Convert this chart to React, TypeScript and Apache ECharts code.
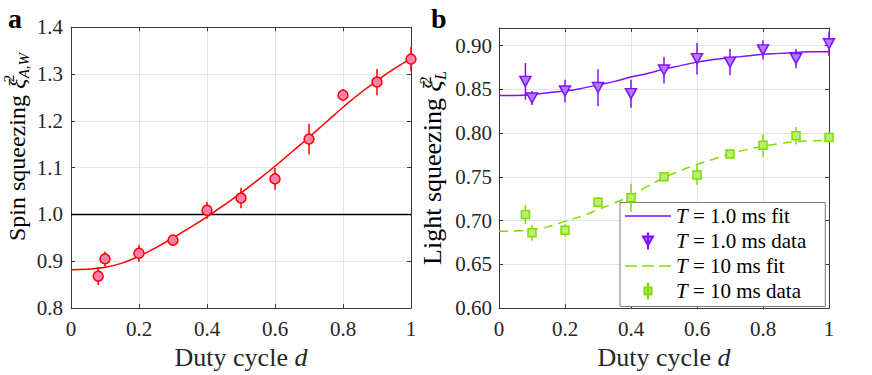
import React, { useEffect, useRef } from "react";
import * as echarts from "echarts";

// ---------- data ----------
const fitD = [0, 0.05, 0.1, 0.15, 0.2, 0.25, 0.3, 0.35, 0.4, 0.45, 0.5, 0.55, 0.6, 0.65, 0.7, 0.75, 0.8, 0.85, 0.9, 0.95, 1.0];
const aFit = [0.882, 0.883, 0.887, 0.896, 0.911, 0.929, 0.95, 0.972, 0.995, 1.02, 1.046, 1.074, 1.103, 1.134, 1.165, 1.197, 1.229, 1.259, 1.286, 1.311, 1.333];
const purpleFit = [0.843, 0.843, 0.844, 0.846, 0.848, 0.851, 0.855, 0.859, 0.864, 0.868, 0.873, 0.877, 0.881, 0.884, 0.886, 0.888, 0.89, 0.891, 0.892, 0.893, 0.893];
const greenFit = [0.6876, 0.688, 0.6895, 0.693, 0.699, 0.705, 0.7124, 0.72, 0.7284, 0.739, 0.749, 0.757, 0.764, 0.77, 0.776, 0.781, 0.7848, 0.788, 0.79, 0.791, 0.7917];

const aD = [0.08, 0.1, 0.2, 0.3, 0.4, 0.5, 0.6, 0.7, 0.8, 0.9, 1.0];
const aVal = [0.868, 0.905, 0.917, 0.945, 1.009, 1.035, 1.076, 1.161, 1.255, 1.283, 1.332];
const aErr = [0.019, 0.016, 0.018, 0.008, 0.018, 0.022, 0.023, 0.033, 0.013, 0.028, 0.026];

const bD = [0.08, 0.1, 0.2, 0.3, 0.4, 0.5, 0.6, 0.7, 0.8, 0.9, 1.0];
const purpleVal = [0.859, 0.84, 0.848, 0.852, 0.845, 0.872, 0.885, 0.881, 0.895, 0.885, 0.902];
const purpleErr = [0.021, 0.008, 0.013, 0.021, 0.016, 0.015, 0.018, 0.015, 0.011, 0.011, 0.014];
const greenVal = [0.707, 0.686, 0.689, 0.721, 0.726, 0.75, 0.752, 0.776, 0.786, 0.797, 0.795];
const greenErr = [0.011, 0.009, 0.007, 0.006, 0.016, 0.005, 0.011, 0.004, 0.013, 0.01, 0.006];

const legendNames = ["T = 1.0 ms fit", "T = 1.0 ms data", "T = 10 ms fit", "T = 10 ms data"];

// ---------- style ----------
const FONT = "'Liberation Serif', 'Times New Roman', serif";
const TXT = "#262626";
const AX = "#3a3a3a";
const GRID = "#e4e4e4";
const RED = "#ff0000";
const PINK = "#ff80ab";
const PURPLE = "#7f10ff";
const LPURPLE = "#b07cff";
const GREEN = "#7fdc00";
const LGREEN = "#b8ee78";

const pairs = (xs: number[], ys: number[]) => xs.map((x, i) => [x, ys[i]]);
const errData = (xs: number[], ys: number[], es: number[]) => xs.map((x, i) => [x, ys[i] - es[i], ys[i] + es[i]]);
const errRender = (color: string) => (params: any, api: any) => {
  const x = api.value(0);
  const p1 = api.coord([x, api.value(1)]);
  const p2 = api.coord([x, api.value(2)]);
  return {
    type: "line",
    shape: { x1: p1[0], y1: p1[1], x2: p2[0], y2: p2[1] },
    style: { stroke: color, lineWidth: 1.5 },
  };
};

const mainX = (grid: number, name: string) => ({
  gridIndex: grid,
  type: "value",
  min: 0,
  max: 1,
  interval: 0.2,
  position: "bottom",
  axisLine: { show: true, onZero: false, lineStyle: { color: AX, width: 1 } },
  axisTick: { show: true, inside: true, length: 4, lineStyle: { color: AX } },
  axisLabel: { fontFamily: FONT, fontSize: 21, color: TXT, margin: 10 },
  splitLine: { show: true, lineStyle: { color: GRID, width: 1 } },
  name,
  nameLocation: "middle",
  nameGap: 36,
  nameTextStyle: {
    fontFamily: FONT,
    fontSize: 26,
    color: TXT,
    rich: { i: { fontFamily: FONT, fontSize: 26, fontStyle: "italic", color: TXT } },
  },
});
const mirrorX = (grid: number) => ({
  gridIndex: grid,
  type: "value",
  min: 0,
  max: 1,
  interval: 0.2,
  position: "top",
  axisLine: { show: true, onZero: false, lineStyle: { color: AX, width: 1 } },
  axisTick: { show: true, inside: true, length: 4, lineStyle: { color: AX } },
  axisLabel: { show: false },
  splitLine: { show: false },
});
const mainY = (grid: number, min: number, max: number, interval: number, digits: number, margin: number) => ({
  gridIndex: grid,
  type: "value",
  min,
  max,
  interval,
  position: "left",
  axisLine: { show: true, onZero: false, lineStyle: { color: AX, width: 1 } },
  axisTick: { show: true, inside: true, length: 4, lineStyle: { color: AX } },
  axisLabel: {
    fontFamily: FONT,
    fontSize: 21,
    color: TXT,
    margin,
    showMaxLabel: digits === 1,
    formatter: (v: number) => v.toFixed(digits),
  },
  splitLine: { show: true, lineStyle: { color: GRID, width: 1 } },
});
const mirrorY = (grid: number, min: number, max: number, interval: number) => ({
  gridIndex: grid,
  type: "value",
  min,
  max,
  interval,
  position: "right",
  axisLine: { show: true, onZero: false, lineStyle: { color: AX, width: 1 } },
  axisTick: { show: true, inside: true, length: 4, lineStyle: { color: AX } },
  axisLabel: { show: false },
  splitLine: { show: false },
});

const supRich = (size: number, small: number, lh: number) => ({
  a: { fontFamily: FONT, fontSize: size, color: TXT, lineHeight: lh },
  x: { fontFamily: FONT, fontSize: size, fontStyle: "italic", color: TXT, lineHeight: lh },
  sup: { fontFamily: FONT, fontSize: small, color: TXT, verticalAlign: "top", width: 0.5, lineHeight: lh },
  sub: { fontFamily: FONT, fontSize: small, fontStyle: "italic", color: TXT, verticalAlign: "bottom", lineHeight: lh },
});

export default function App() {
  const ref = useRef<HTMLDivElement>(null);
  useEffect(() => {
    if (!ref.current) return;
    const chart = echarts.init(ref.current, undefined, { renderer: "svg" });
    const option: any = {
      animation: false,
      backgroundColor: "#ffffff",
      grid: [
        { left: 71, top: 27.3, width: 340, height: 281.4 },
        { left: 499, top: 28, width: 330, height: 280.3 },
      ],
      xAxis: [mainX(0, "Duty cycle {i|d}"), mirrorX(0), mainX(1, "Duty cycle {i|d}"), mirrorX(1)],
      yAxis: [
        mainY(0, 0.8, 1.4, 0.1, 1, 8),
        mirrorY(0, 0.8, 1.4, 0.1),
        mainY(1, 0.6, 0.92, 0.05, 2, 7),
        mirrorY(1, 0.6, 0.92, 0.05),
      ],
      legend: {
        show: true,
        selectedMode: false,
        orient: "vertical",
        left: 620,
        top: 202.5,
        backgroundColor: "#ffffff",
        borderColor: "#7a7a7a",
        borderWidth: 1,
        borderRadius: 0,
        padding: [1, 19, 3, 5],
        itemWidth: 46,
        itemHeight: 17,
        itemGap: 0,
        textStyle: {
          fontFamily: FONT,
          fontSize: 21,
          color: "#000",
          lineHeight: 25,
          rich: { i: { fontFamily: FONT, fontSize: 21, fontStyle: "italic", color: "#000", lineHeight: 25 } },
        },
        formatter: (name: string) => name.replace(/^T/, "{i|T}"),
        data: [
          { name: legendNames[0], icon: "path://M0,0 L46,0 L46,1.5 L0,1.5 Z" },
          { name: legendNames[1], icon: "path://M0,4 L10,4 L5,13 Z M5,0 L5,17" },
          { name: legendNames[2], icon: "path://M0,0 L12,0 L12,1.5 L0,1.5 Z M17,0 L29,0 L29,1.5 L17,1.5 Z M34,0 L46,0 L46,1.5 L34,1.5 Z" },
          { name: legendNames[3], icon: "path://M1,5 L8,5 L8,12 L1,12 Z M4.5,0 L4.5,17" },
        ],
      },
      graphic: [
        {
          type: "text",
          x: 16.5,
          y: 147,
          rotation: Math.PI / 2,
          style: {
            text: "{a|Spin squeezing }{x|ξ}{sup|2}{sub|A,W}",
            rich: supRich(24, 15, 30),
            align: "center",
            verticalAlign: "middle",
            textAlign: "center",
            textVerticalAlign: "middle",
          },
        },
        {
          type: "text",
          x: 432.5,
          y: 168,
          rotation: Math.PI / 2,
          style: {
            text: "{a|Light squeezing }{x|ξ}{sup|2}{sub|L}",
            rich: supRich(26, 16, 31),
            align: "center",
            verticalAlign: "middle",
            textAlign: "center",
            textVerticalAlign: "middle",
          },
        },
        {
          type: "text",
          x: 8,
          y: 18.5,
          style: { text: "a", fontFamily: FONT, fontSize: 28, fontWeight: "bold", fill: "#000", verticalAlign: "middle", textVerticalAlign: "middle" },
        },
        {
          type: "text",
          x: 431,
          y: 18.5,
          style: { text: "b", fontFamily: FONT, fontSize: 28, fontWeight: "bold", fill: "#000", verticalAlign: "middle", textVerticalAlign: "middle" },
        },
      ],
      series: [
        // panel a
        {
          type: "line",
          name: "unity",
          xAxisIndex: 0,
          yAxisIndex: 0,
          data: [[0, 1], [1, 1]],
          symbol: "none",
          lineStyle: { color: "#000", width: 1.5 },
          z: 2,
        },
        {
          type: "line",
          name: "a fit",
          xAxisIndex: 0,
          yAxisIndex: 0,
          data: pairs(fitD, aFit),
          smooth: true,
          symbol: "none",
          lineStyle: { color: RED, width: 1.5 },
          z: 3,
        },
        {
          type: "custom",
          name: "a err",
          xAxisIndex: 0,
          yAxisIndex: 0,
          data: errData(aD, aVal, aErr),
          encode: { x: 0, y: [1, 2] },
          renderItem: errRender(RED),
          z: 4,
        },
        {
          type: "scatter",
          name: "a data",
          xAxisIndex: 0,
          yAxisIndex: 0,
          data: pairs(aD, aVal),
          symbol: "circle",
          symbolSize: 10,
          itemStyle: { color: PINK, borderColor: RED, borderWidth: 1.5, opacity: 1 },
          z: 5,
        },
        // panel b
        {
          type: "line",
          name: legendNames[0],
          xAxisIndex: 2,
          yAxisIndex: 2,
          data: pairs(fitD, purpleFit),
          smooth: true,
          symbol: "none",
          color: PURPLE,
          itemStyle: { color: PURPLE },
          lineStyle: { color: PURPLE, width: 1.5 },
          z: 3,
        },
        {
          type: "custom",
          name: "purple err",
          xAxisIndex: 2,
          yAxisIndex: 2,
          data: errData(bD, purpleVal, purpleErr),
          encode: { x: 0, y: [1, 2] },
          renderItem: errRender(PURPLE),
          z: 4,
        },
        {
          type: "scatter",
          name: legendNames[1],
          xAxisIndex: 2,
          yAxisIndex: 2,
          data: pairs(bD, purpleVal),
          symbol: "triangle",
          symbolRotate: 180,
          symbolSize: [11, 10],
          itemStyle: { color: LPURPLE, borderColor: PURPLE, borderWidth: 1.5, opacity: 1 },
          z: 5,
        },
        {
          type: "line",
          name: legendNames[2],
          xAxisIndex: 2,
          yAxisIndex: 2,
          data: pairs(fitD, greenFit),
          smooth: true,
          symbol: "none",
          color: GREEN,
          itemStyle: { color: GREEN },
          lineStyle: { color: GREEN, width: 1.5, type: [9, 6] },
          z: 3,
        },
        {
          type: "custom",
          name: "green err",
          xAxisIndex: 2,
          yAxisIndex: 2,
          data: errData(bD, greenVal, greenErr),
          encode: { x: 0, y: [1, 2] },
          renderItem: errRender(GREEN),
          z: 4,
        },
        {
          type: "scatter",
          name: legendNames[3],
          xAxisIndex: 2,
          yAxisIndex: 2,
          data: pairs(bD, greenVal),
          symbol: "rect",
          symbolSize: 8,
          itemStyle: { color: LGREEN, borderColor: GREEN, borderWidth: 1.5, opacity: 1 },
          z: 5,
        },
      ],
    };
    chart.setOption(option);
    return () => chart.dispose();
  }, []);
  return <div ref={ref} style={{ position: "fixed", left: 0, top: 0, width: 872, height: 375 }} />;
}
